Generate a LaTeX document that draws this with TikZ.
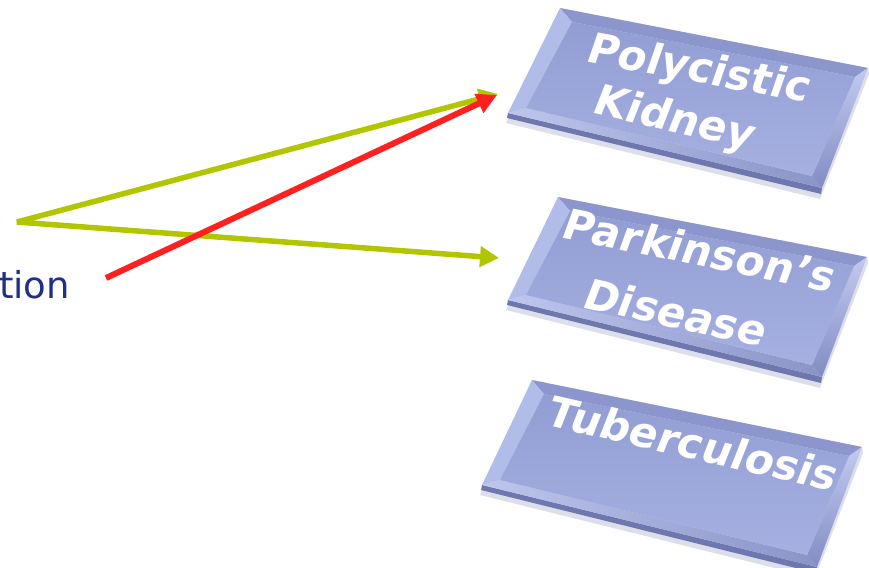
\documentclass[tikz,border=0pt]{standalone}
\usepackage{fontspec}
\setmainfont{DejaVu Sans}
\newfontfamily\labelfont{DejaVu Sans Bold}[FakeSlant=0.15]
\usetikzlibrary{arrows.meta,calc}

\definecolor{arrowgreen}{RGB}{178,198,0}
\definecolor{arrowred}{RGB}{255,32,32}
\definecolor{navytext}{RGB}{31,48,135}
\definecolor{faceTop}{RGB}{146,157,211}
\definecolor{faceBot}{RGB}{166,176,225}
\definecolor{bevTop}{RGB}{140,150,204}
\definecolor{bevLeft}{RGB}{178,188,232}
\definecolor{bevBotL}{RGB}{190,198,237}
\definecolor{bevBotR}{RGB}{138,148,199}
\definecolor{bevRightT}{RGB}{194,202,240}
\definecolor{bevRightB}{RGB}{130,140,195}
\definecolor{slabEdge}{RGB}{110,120,174}
\definecolor{slabShadow}{RGB}{178,183,207}

% A bevelled slab given its four outer corners (top left, top right,
% bottom right, bottom left); #1 is the prefix of its corner names.
\newcommand\slab[5]{%
  \coordinate (#1-tl) at #2;
  \coordinate (#1-tr) at #3;
  \coordinate (#1-br) at #4;
  \coordinate (#1-bl) at #5;
  \coordinate (#1-tli) at ($(#1-tl)+(12,14)$);
  \coordinate (#1-tri) at ($(#1-tr)+(-13,9)$);
  \coordinate (#1-bri) at ($(#1-br)+(-10,-12)$);
  \coordinate (#1-bli) at ($(#1-bl)+(18,-5)$);
  % soft shadow and thickness under the lower edge
  \fill[slabShadow, opacity=.45] ($(#1-bl)+(-2,10)$) -- ($(#1-br)+(-2,11)$)
     -- ($(#1-tr)+(1,6)$) -- (#1-tr) -- (#1-tl) -- cycle;
  \fill[slabEdge] ($(#1-bl)+(-1,5)$) -- ($(#1-br)+(-1,6)$) -- (#1-br) -- (#1-bl) -- cycle;
  % bevel facets
  \fill[bevTop] (#1-tl) -- (#1-tr) -- (#1-tri) -- (#1-tli) -- cycle;
  \fill[bevLeft] (#1-tl) -- (#1-tli) -- (#1-bli) -- (#1-bl) -- cycle;
  \shade[left color=bevBotL, right color=bevBotR] (#1-bl) -- (#1-bli) -- (#1-bri) -- (#1-br) -- cycle;
  \shade[top color=bevRightT, bottom color=bevRightB] (#1-tr) -- (#1-br) -- (#1-bri) -- (#1-tri) -- cycle;
  % flat face
  \shade[top color=faceTop, bottom color=faceBot] (#1-tli) -- (#1-tri) -- (#1-bri) -- (#1-bli) -- cycle;
}

\begin{document}
\begin{tikzpicture}[x=1pt,y=-1pt,
  boxtext/.style={font=\labelfont\fontsize{42}{50}\selectfont,
    text=white, inner sep=0pt, anchor=base},
  conn/.style={line width=5.5pt, line join=bevel,
    {Triangle[length=19pt,width=20pt]}-{Triangle[length=19pt,width=20pt]}},
  redconn/.style={line width=6pt, draw=arrowred,
    -{Triangle[length=20pt,width=20pt]}}]
\useasboundingbox (0,0) rectangle (869,567);
\clip (0,0) rectangle (869,567);

% the three slabs
\slab{kid}{(560,8)}{(868,68)}{(822,188)}{(508,113)}
\slab{par}{(558,197)}{(867,257)}{(822,377)}{(508,300)}
\slab{tub}{(532,380)}{(862,447)}{(817,567)}{(482,485)}

% slab labels
\node[boxtext, rotate=-10.5] (kidA) at (695,82) {Polycistic};
\node[boxtext, rotate=-13]   (kidB) at (670,131) {Kidney};
\node[boxtext, rotate=-11.3] (parA) at (695,265) {Parkinson’s};
\node[boxtext, rotate=-12.5] (parB) at (671,327) {Disease};
\node[boxtext, rotate=-13]   (tubA) at (688,458) {Tuberculosis};

% label on the left
\node[anchor=base west, inner sep=0pt, text=navytext,
  font=\fontsize{37}{44}\selectfont] (src) at (-1,298) {tion};

% connector end points
\coordinate (fork) at (17,222);
\coordinate (kidIn) at (498,94);
\coordinate (parIn) at (499,258);
\coordinate (redFoot) at (106,278);
\coordinate (kidInR) at (497,95);

\draw[conn, draw=arrowgreen] (kidIn) -- (fork) -- (parIn);
\draw[redconn] (redFoot) -- (kidInR);
\end{tikzpicture}
\end{document}
